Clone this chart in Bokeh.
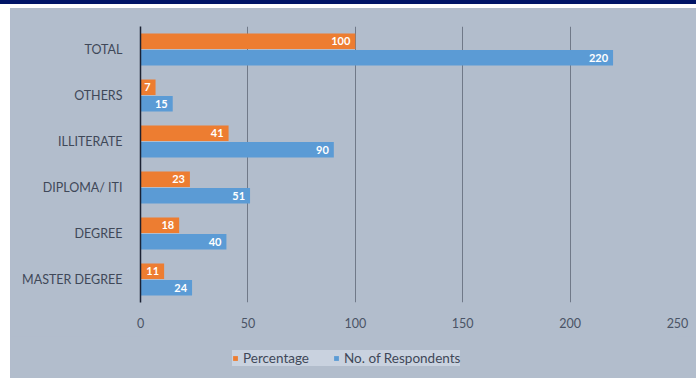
from bokeh.plotting import figure
from bokeh.models import (ColumnDataSource, FactorRange, Range1d, Legend, LegendItem,
                          FixedTicker, Div)
from bokeh.layouts import column
from bokeh.transform import dodge
from bokeh.core.properties import value
from bokeh.embed import file_html
from bokeh.resources import INLINE

categories = ["TOTAL", "OTHERS", "ILLITERATE", "DIPLOMA/ ITI", "DEGREE", "MASTER DEGREE"]
percentage = [100, 7, 41, 23, 18, 11]
respondents = [220, 15, 90, 51, 40, 24]
x_ticks = [0, 50, 100, 150, 200, 250]
series_names = ["Percentage", "No. of Respondents"]

FONT = "Lato"
BG = "#b2bdcc"
ORANGE = "#ed7d31"
BLUE = "#5b9bd5"

src = ColumnDataSource(dict(
    cat=categories,
    pct=percentage,
    resp=respondents,
    pct_lbl=[str(v) for v in percentage],
    resp_lbl=[str(v) for v in respondents],
))

p = figure(width=686, height=328,
           y_range=FactorRange(*reversed(categories)),
           x_range=Range1d(0, 250),
           output_backend="svg", toolbar_location=None,
           min_border_left=130, min_border_right=19,
           min_border_top=18, min_border_bottom=34)
p.border_fill_color = BG
p.background_fill_color = BG
p.outline_line_color = None
p.margin = (4, 0, 0, 10)
p.styles = {"background-color": BG}

r1 = p.hbar(y=dodge("cat", 0.18, range=p.y_range), right="pct", left=0, height=0.34,
            source=src, fill_color=ORANGE, line_color=None)
r2 = p.hbar(y=dodge("cat", -0.18, range=p.y_range), right="resp", left=0, height=0.34,
            source=src, fill_color=BLUE, line_color=None)

p.text(x="pct", y=dodge("cat", 0.18, range=p.y_range), text="pct_lbl", source=src,
       x_offset=-5, text_align="right", text_baseline="middle", text_color="white",
       text_font=value(FONT), text_font_size="11px", text_font_style="bold")
p.text(x="resp", y=dodge("cat", -0.18, range=p.y_range), text="resp_lbl", source=src,
       x_offset=-5, text_align="right", text_baseline="middle", text_color="white",
       text_font=value(FONT), text_font_size="11px", text_font_style="bold")

# axes
p.yaxis.axis_line_color = "#1b2233"
p.yaxis.axis_line_width = 1.5
p.yaxis.major_tick_line_color = None
p.yaxis.minor_tick_line_color = None
p.yaxis.major_label_text_font = FONT
p.yaxis.major_label_text_font_size = "12.5px"
p.yaxis.major_label_text_color = "#3f4858"
p.yaxis.major_label_standoff = 12

p.xaxis.ticker = FixedTicker(ticks=x_ticks)
p.xaxis.axis_line_color = None
p.xaxis.major_tick_line_color = None
p.xaxis.minor_tick_line_color = None
p.xaxis.major_label_text_font = FONT
p.xaxis.major_label_text_font_size = "12.5px"
p.xaxis.major_label_text_color = "#4a5466"
p.xaxis.major_label_standoff = 9

p.xgrid.ticker = FixedTicker(ticks=x_ticks)
p.xgrid.grid_line_color = "#707988"
p.xgrid.grid_line_width = 1
p.ygrid.grid_line_color = None

# legend strip (separate figure below the chart)
pl = figure(width=686, height=42, x_range=Range1d(0, 1), y_range=Range1d(0, 1),
            output_backend="svg", toolbar_location=None,
            x_axis_location=None, y_axis_location=None,
            min_border=0, min_border_left=0, min_border_right=0,
            min_border_top=0, min_border_bottom=0)
pl.border_fill_color = BG
pl.background_fill_color = BG
pl.outline_line_color = None
pl.grid.grid_line_color = None
pl.margin = (0, 0, 0, 10)
pl.styles = {"background-color": BG}
# off-screen swatch renderers for the legend
lr1 = pl.hbar(y=[-10], right=[-10], left=[-11], height=0.5, fill_color=ORANGE, line_color=None)
lr2 = pl.hbar(y=[-10], right=[-10], left=[-11], height=0.5, fill_color=BLUE, line_color=None)

legend = Legend(items=[LegendItem(label=series_names[0], renderers=[lr1]),
                       LegendItem(label=series_names[1], renderers=[lr2])],
                orientation="horizontal", location=(92, 12),
                glyph_width=6, glyph_height=6,
                label_text_font=FONT, label_text_font_size="13.5px",
                label_text_color="#3f4858", label_standoff=5,
                spacing=24, padding=6, margin=0,
                background_fill_color="#c9d2df", background_fill_alpha=1.0,
                border_line_color=None)
pl.add_layout(legend, "center")

band = Div(width=696, height=4, styles={"background-color": "#001466"}, margin=0)
layout = column(band, p, pl, spacing=0)

open("out.html", "w").write(file_html(layout, INLINE))
